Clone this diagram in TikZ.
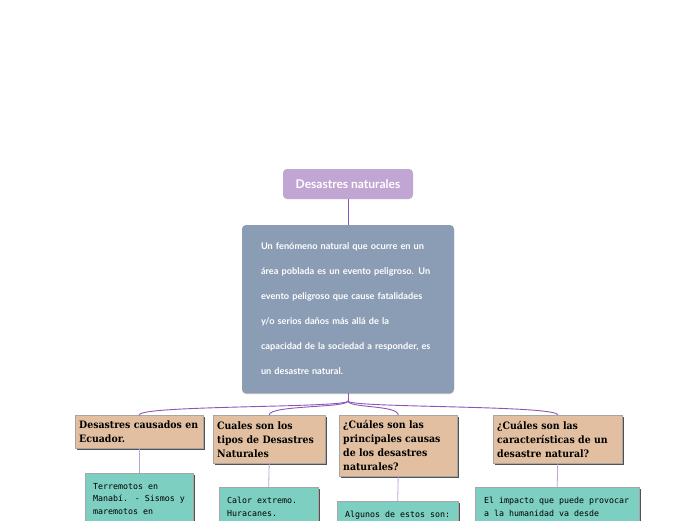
\documentclass[tikz,border=0pt]{standalone}
\usepackage{fontspec}
\setmainfont{Lato}
\newfontfamily\slabfont[FakeStretch=0.92]{DejaVu Serif}
\newfontfamily\monofont{DejaVu Sans Mono}
\usetikzlibrary{shadows}
\definecolor{titlec}{HTML}{C1A6D3}
\definecolor{mainc}{HTML}{8B9CB5}
\definecolor{brownc}{HTML}{E1BFA0}
\definecolor{greenc}{HTML}{7DCFC1}
\definecolor{darkline}{HTML}{8E55B8}
\definecolor{lightline}{HTML}{BDA3D8}
\tikzset{
  titlebox/.style={fill=titlec, rounded corners=4pt, minimum width=130pt, minimum height=30pt,
    inner sep=0pt, text=white, font=\bfseries\fontsize{12}{14}\selectfont},
  mainbox/.style={fill=mainc, rounded corners=4pt, minimum width=212pt, minimum height=168pt,
    inner xsep=19pt, inner ysep=0pt, text width=174pt, align=left, text=white,
    font=\bfseries\fontsize{9.2}{25}\selectfont,
    drop shadow={shadow xshift=0pt, shadow yshift=-1pt, opacity=0.25, fill=black}},
  brownbox/.style={fill=brownc, draw=black!35, line width=0.4pt, anchor=north west,
    inner xsep=4pt, inner ysep=0pt, align=left,
    font=\slabfont\bfseries\fontsize{10.2}{14}\selectfont,
    drop shadow={shadow xshift=2pt, shadow yshift=-2pt, opacity=0.85, fill=black!80}},
  greenbox/.style={fill=greenc, draw=black!35, line width=0.4pt, anchor=north west,
    inner sep=0pt, minimum height=90pt,
    drop shadow={shadow xshift=2pt, shadow yshift=-2pt, opacity=0.85, fill=black!80}},
  greentext/.style={anchor=north west, inner sep=0pt, align=left,
    font=\monofont\fontsize{8.3}{12.5}\selectfont},
  topline/.style={draw=darkline, line width=0.9pt},
  subline/.style={draw=lightline, line width=0.8pt}
}
\begin{document}
\begin{tikzpicture}[x=1pt,y=-1pt]
\useasboundingbox (0,0) rectangle (696,520);
\clip (0,0) rectangle (696,520);
\fill[white] (0,0) rectangle (696,520);

\node[titlebox] (title) at (348,184) {Desastres naturales};
\node[mainbox] (main) at (348,309) {\mbox{Un fenómeno natural que ocurre en un}\\
\mbox{área poblada es un evento peligroso. Un}\\
\mbox{evento peligroso que cause fatalidades}\\
\mbox{y/o serios daños más allá de la}\\
\mbox{capacidad de la sociedad a responder, es}\\
\mbox{un desastre natural.}};

\node[brownbox, text width=120pt, minimum height=33pt] (b1) at (75,415) {Desastres causados en\\Ecuador.};
\node[brownbox, text width=104pt, minimum height=48pt] (b2) at (213,415) {Cuales son los\\tipos de Desastres\\Naturales};
\node[brownbox, text width=110pt, minimum height=61pt] (b3) at (339,415) {¿Cuáles son las\\principales causas\\de los desastres\\naturales?};
\node[brownbox, text width=121pt, minimum height=48pt] (b4) at (493,415) {¿Cuáles son las\\características de un\\desastre natural?};

\node[greenbox, minimum width=108pt] (g1) at (85,473) {};
\node[greenbox, minimum width=99pt] (g2) at (219,487) {};
\node[greenbox, minimum width=121pt] (g3) at (337,501) {};
\node[greenbox, minimum width=164pt] (g4) at (475,487) {};

\node[greentext] (g1t) at ([xshift=8pt,yshift=-10pt]g1.north west) {Terremotos en\\Manabí. - Sismos y\\maremotos en};
\node[greentext] (g2t) at ([xshift=8pt,yshift=-10pt]g2.north west) {Calor extremo.\\Huracanes.};
\node[greentext] (g3t) at ([xshift=8pt,yshift=-10pt]g3.north west) {Algunos de estos son:};
\node[greentext] (g4t) at ([xshift=9pt,yshift=-10pt]g4.north west) {El impacto que puede provocar\\a la humanidad va desde};

\coordinate (fork) at (348,401);
\draw[topline] (title.south) -- (main.north);
\draw[topline] (main.south) -- (fork);
\foreach \b in {b1,b2,b3,b4}{
  \draw[topline] (fork) .. controls (348,408) and ([yshift=10pt]\b.north) .. (\b.north);
}
\foreach \b/\g in {b1/g1,b2/g2,b3/g3,b4/g4}{
  \draw[subline] (\b.south) -- (\g.north);
}
\end{tikzpicture}
\end{document}
